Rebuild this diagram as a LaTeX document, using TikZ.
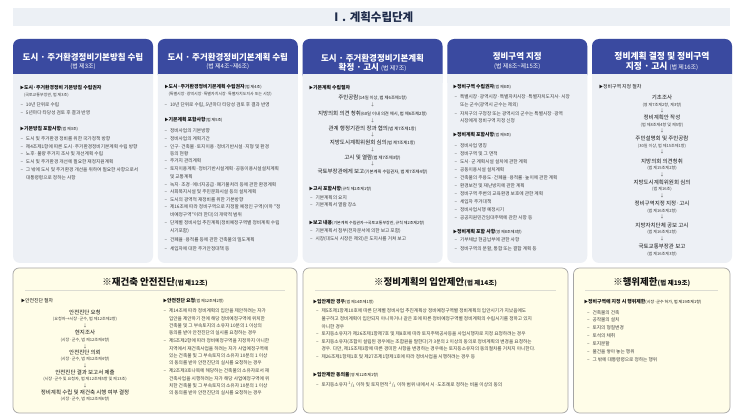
\documentclass[tikz,border=0pt]{standalone}
\usepackage{fontspec}
\newfontfamily\kr{Noto Sans CJK KR}
\definecolor{hdrc}{RGB}{58,74,160}
\definecolor{bodyc}{RGB}{237,240,245}
\definecolor{bandc}{RGB}{236,240,245}
\definecolor{creamc}{RGB}{255,253,232}
\definecolor{boxline}{RGB}{165,165,165}
\definecolor{sepc}{RGB}{220,220,210}
\definecolor{txtc}{RGB}{60,60,60}
\definecolor{headc}{RGB}{20,20,20}
\definecolor{arrc}{RGB}{90,90,90}
\definecolor{titc}{RGB}{30,43,74}
\newcounter{ln}
\tikzset{
 tl/.style={anchor=west, inner sep=0pt, outer sep=0pt, text=txtc, font=\kr\fontsize{4.7}{5}\selectfont},
 tc/.style={tl, anchor=center},
 bh/.style={tl, text=headc, font=\kr\bfseries\fontsize{4.9}{5}\selectfont},
 bn/.style={tl, text=headc, font=\kr\fontsize{4.9}{5}\selectfont},
 fm/.style={tc, text=headc, font=\kr\fontsize{5.5}{6}\selectfont},
 fs/.style={tc, font=\kr\fontsize{4.1}{5}\selectfont},
 ar/.style={tc, text=arrc, font=\kr\fontsize{4.5}{5}\selectfont},
 ht/.style={anchor=center, inner sep=0pt, text=white, font=\kr\bfseries\fontsize{8.5}{9}\selectfont},
 hs/.style={ht, font=\kr\fontsize{6}{6}\selectfont},
 bt/.style={anchor=center, inner sep=0pt, text=headc, font=\kr\bfseries\fontsize{9.5}{10}\selectfont},
}
\newcommand\Tx[3][tl]{\stepcounter{ln}\node[#1] (t\arabic{ln}) at (#2) {#3};}
\newcommand\psm[1]{{\mdseries\fontsize{4}{5}\selectfont #1}}
\newcommand\psn[1]{{\mdseries\fontsize{4.3}{5}\selectfont #1}}
\newcommand\trg{{\fontsize{4}{5}\selectfont ▶}}
\newcommand\dsh{\makebox[5.5pt][l]{–}}
\newcommand\colbox[1]{%
 \fill[bodyc, rounded corners=7pt] (#1,39) rectangle ++(140,224);
 \fill[hdrc, rounded corners=7pt] (#1,39) rectangle ++(140,42);
 \fill[bodyc] (#1,74) rectangle ++(140,9);}
\newcommand\botbox[2]{%
 \filldraw[fill=creamc, draw=boxline, line width=0.7pt, rounded corners=6pt] (#1,268) rectangle (#2,413);}
\begin{document}
\begin{tikzpicture}[x=1pt,y=-1pt]
\useasboundingbox (0,0) rectangle (743,419);
\fill[white] (0,0) rectangle (743,419);
% title band
\fill[bandc] (13,8) rectangle (730,26);
\Tx[anchor=center, inner sep=0pt, text=titc, font=\kr\bfseries\fontsize{11.5}{12}\selectfont]{372,17}{Ⅰ. 계획수립단계}
% columns
\colbox{13}
\colbox{157.75}
\colbox{302.5}
\colbox{447.25}
\colbox{592}
% headers
\Tx[ht]{83,57}{도시 · 주거환경정비기본방침 수립}
\Tx[hs]{83,67}{(법 제3조)}
\Tx[ht]{227.75,57}{도시 · 주거환경정비기본계획 수립}
\Tx[hs]{227.75,67}{(법 제4조\textasciitilde 제6조)}
\Tx[ht]{372.5,58}{도시 · 주거환경정비기본계획}
\Tx[ht]{372.5,67.5}{확정 · 고시 {\mdseries\fontsize{6}{6}\selectfont (법 제7조)}}
\Tx[ht]{517.25,56}{정비구역 지정}
\Tx[hs]{517.25,67}{(법 제8조\textasciitilde 제15조)}
\Tx[ht, font=\kr\bfseries\fontsize{8.8}{9}\selectfont]{662,56.5}{정비계획 결정 및 정비구역}
\Tx[ht, font=\kr\bfseries\fontsize{8.8}{9}\selectfont]{662,66}{지정 · 고시 {\mdseries\fontsize{6}{6}\selectfont (법 제16조)}}
% ---- column 1
\Tx[bh]{20,87.3}{\trg 도시·주거환경정비 기본방침 수립권자}
\Tx{24,95}{\psm{(국토교통부장관, 법 제3조)}}
\Tx{20.5,105}{\dsh 10년 단위로 수립}
\Tx{20.5,113}{\dsh 5년마다 타당성 검토 후 결과 반영}
\Tx[bh]{20,129}{\trg 기본방침 포함사항\psm{(법 제3조)}}
\Tx{20.5,138.7}{\dsh 도시 및 주거환경 정비를 위한 국가정책 방향}
\Tx{20.5,146.3}{\dsh 제4조제1항에 따른 도시·주거환경정비기본계획 수립 방향}
\Tx{20.5,154}{\dsh 노후·불량 주거지 조사 및 개선계획 수립}
\Tx{20.5,162}{\dsh 도시 및 주거환경 개선에 필요한 재정지원계획}
\Tx{20.5,170}{\dsh 그 밖에 도시 및 주거환경 개선을 위하여 필요한 사항으로서}
\Tx{26,177.7}{대통령령으로 정하는 사항}
% ---- column 2
\Tx[bh]{164.5,86.7}{\trg 도시·주거환경정비기본계획 수립권자\psm{(법 제4조)}}
\Tx{168.5,94.3}{\psm{(특별시장·광역시장·특별자치시장·특별자치도지사 또는 시장)}}
\Tx{164.5,105}{\dsh 10년 단위로 수립, 5년마다 타당성 검토 후 결과 반영}
\Tx[bh]{164.5,120}{\trg 기본계획 포함사항\psm{(법 제5조)}}
\Tx{164.5,130.7}{\dsh 정비사업의 기본방향}
\Tx{164.5,139}{\dsh 정비사업의 계획기간}
\Tx{164.5,146.3}{\dsh 인구·건축물·토지이용·정비기반시설·지형 및 환경}
\Tx{170,153.5}{등의 현황}
\Tx{164.5,161}{\dsh 주거지 관리계획}
\Tx{164.5,168.7}{\dsh 토지이용계획·정비기반시설계획·공동이용시설설치계획}
\Tx{170,176.3}{및 교통계획}
\Tx{164.5,184.3}{\dsh 녹지·조경·에너지공급·폐기물처리 등에 관한 환경계획}
\Tx{164.5,192}{\dsh 사회복지시설 및 주민문화시설 등의 설치계획}
\Tx{164.5,199.7}{\dsh 도시의 광역적 재정비를 위한 기본방향}
\Tx{164.5,207.3}{\dsh 제16조에 따라 정비구역으로 지정할 예정인 구역(이하 "정}
\Tx{170,215}{비예정구역"이라 한다)의 개략적 범위}
\Tx{164.5,223.3}{\dsh 단계별 정비사업 추진계획(정비예정구역별 정비계획 수립}
\Tx{170,230.7}{시기포함)}
\Tx{164.5,240}{\dsh 건폐율·용적률 등에 관한 건축물의 밀도계획}
\Tx{164.5,248.5}{\dsh 세입자에 대한 주거안정대책 등}
% ---- column 3
\Tx[bh]{309,87.3}{\trg 기본계획 수립절차}
\Tx[fm]{372.5,97.7}{주민공람\psn{(14일 이상, 법 제6조제1항)}}
\Tx[ar]{372.5,105}{↓}
\Tx[fm]{372.5,113.3}{지방의회 의견 청취\psn{(60일 이내 의견 제시, 법 제6조제2항)}}
\Tx[ar]{372.5,120.5}{↓}
\Tx[fm]{372.5,128.3}{관계 행정기관의 장과 협의\psn{(법 제7조제1항)}}
\Tx[ar]{372.5,135.3}{↓}
\Tx[fm]{372.5,142.7}{지방도시계획위원회 심의\psn{(법 제7조제1항)}}
\Tx[ar]{372.5,149.7}{↓}
\Tx[fm]{372.5,157.3}{고시 및 열람\psn{(법 제7조제3항)}}
\Tx[ar]{372.5,164.3}{↓}
\Tx[fm]{372.5,171.7}{국토부장관에게 보고\psn{(기본계획 수립권자, 법 제7조제4항)}}
\Tx[bh]{309,189}{\trg 고시 포함사항\psm{(규칙 제2조제1항)}}
\Tx{310,197.3}{\dsh 기본계획의 요지}
\Tx{310,205}{\dsh 기본계획서 열람 장소}
\Tx[bh]{309,222.7}{\trg 보고 내용\psm{(기본계획 수립권자→국토교통부장관, 규칙 제2조제2항)}}
\Tx{310,231}{\dsh 기본계획서 첨부(전자문서에 의한 보고 포함)}
\Tx{310,239}{\dsh 시장(대도시 시장은 제외)은 도지사를 거쳐 보고}
% ---- column 4
\Tx[bh]{453,87.3}{\trg 정비구역 수립권자\psm{(법 제8조)}}
\Tx{454.5,97}{\dsh 특별시장·광역시장·특별자치시장·특별자치도지사·시장}
\Tx{460,105}{또는 군수(광역시 군수는 제외)}
\Tx{454.5,113.3}{\dsh 자치구의 구청장 또는 광역시의 군수는 특별시장·광역}
\Tx{460,121}{시장에게 정비구역 지정 신청}
\Tx[bh]{453,135}{\trg 정비계획 포함사항\psm{(법 제9조)}}
\Tx{454.5,146}{\dsh 정비사업 명칭}
\Tx{454.5,153.7}{\dsh 정비구역 및 그 면적}
\Tx{454.5,161.7}{\dsh 도시·군 계획시설 설치에 관한 계획}
\Tx{454.5,169.7}{\dsh 공동이용시설 설치계획}
\Tx{454.5,177.7}{\dsh 건축물의 주용도·건폐율·용적률·높이에 관한 계획}
\Tx{454.5,185.7}{\dsh 환경보전 및 재난방지에 관한 계획}
\Tx{454.5,194}{\dsh 정비구역 주변의 교육환경 보호에 관한 계획}
\Tx{454.5,201.7}{\dsh 세입자 주거대책}
\Tx{454.5,209.3}{\dsh 정비사업시행 예정시기}
\Tx{454.5,217.7}{\dsh 공공지원민간임대주택에 관한 사항 등}
\Tx[bh]{453,231.7}{\trg 정비계획 포함 사항\psm{(영 제8조제3항)}}
\Tx{454.5,240}{\dsh 기부채납 현금납부에 관한 사항}
\Tx{454.5,248.5}{\dsh 정비구역의 분할, 통합 또는 결합 계획 등}
% ---- column 5
\Tx[bn]{599,86.7}{\trg 정비구역 지정 절차}
\Tx[fm]{662,97.7}{기초조사}
\Tx[fs]{662,105}{(영 제7조제2항, 제3항)}
\Tx[ar]{662,111}{↓}
\Tx[fm]{662,117.7}{정비계획안 작성}
\Tx[fs]{662,125}{(법 제8조제4항 및 제5항)}
\Tx[ar]{662,131.3}{↓}
\Tx[fm]{662,138.3}{주민설명회 및 주민공람}
\Tx[fs]{662,145.7}{(30일 이상, 법 제15조제1항)}
\Tx[ar]{662,152.3}{↓}
\Tx[fm]{662,161}{지방의회 의견청취}
\Tx[fs]{662,168.3}{(법 제15조제2항)}
\Tx[ar]{662,175}{↓}
\Tx[fm]{662,182.7}{지방도시계획위원회 심의}
\Tx[fs]{662,189.3}{(법 제16조)}
\Tx[ar]{662,195.7}{↓}
\Tx[fm]{662,203.3}{정비구역지정 지정·고시}
\Tx[fs]{662,210.7}{(법 제16조제2항)}
\Tx[ar]{662,217.3}{↓}
\Tx[fm]{662,225}{지방자치단체 공보 고시}
\Tx[fs]{662,231.7}{(법 제16조제2항)}
\Tx[ar]{662,239}{↓}
\Tx[fm]{662,246.7}{국토교통부장관 보고}
\Tx[fs]{662,254}{(법 제16조제3항)}
% ---- bottom boxes
\botbox{13}{297}
\botbox{303}{568}
\botbox{573.5}{730}
\draw[sepc, line width=0.6pt] (25,290.5) -- (285,290.5);
\draw[sepc, line width=0.6pt] (315,290.5) -- (556,290.5);
\draw[sepc, line width=0.6pt] (585,290.5) -- (718,290.5);
% bottom 1
\Tx[bt]{155,282.5}{※재건축 안전진단{\fontsize{6.5}{7}\selectfont (법 제12조)}}
\Tx[bn]{21,301}{\trg 안전진단 절차}
\Tx[fm]{85,312.3}{안전진단 요청}
\Tx[fs]{85,319}{(요청자→시장·군수, 법 제12조제2항)}
\Tx[ar]{85,325.7}{↓}
\Tx[fm]{85,332.7}{현지조사}
\Tx[fs]{85,340}{(시장·군수, 법 제12조제4항)}
\Tx[ar]{85,346.3}{↓}
\Tx[fm]{85,352.7}{안전진단 의뢰}
\Tx[fs]{85,359.3}{(시장·군수, 법 제12조제4항)}
\Tx[ar]{85,365.7}{↓}
\Tx[fm]{85,372.3}{안전진단 결과 보고서 제출}
\Tx[fs]{85,379}{(시장·군수 및 요청자, 법 제12조제5항 및 제13조)}
\Tx[ar]{85,385.7}{↓}
\Tx[fm]{85,392.3}{정비계획 수립 및 재건축 시행 여부 결정}
\Tx[fs]{85,399}{(시장·군수, 법 제12조제6항)}
\Tx[bh]{163,301}{\trg 안전진단 요청\psm{(법 제12조제2항)}}
\Tx{163.5,311}{\dsh 제14조에 따라 정비계획의 입안을 제안하려는 자가}
\Tx{169,318.3}{입안을 제안하기 전에 해당 정비예정구역에 위치한}
\Tx{169,325.7}{건축물 및 그 부속토지의 소유자 10분의 1 이상의}
\Tx{169,333}{동의를 받아 안전진단의 실시를 요청하는 경우}
\Tx{163.5,341}{\dsh 제5조제2항에 따라 정비예정구역을 지정하지 아니한}
\Tx{169,348.3}{지역에서 재건축사업을 하려는 자가 사업예정구역에}
\Tx{169,355.7}{있는 건축물 및 그 부속토지의 소유자 10분의 1 이상}
\Tx{169,363}{의 동의를 받아 안전진단의 실시를 요청하는 경우}
\Tx{163.5,371}{\dsh 제2조제3호나목에 해당하는 건축물의 소유자로서 재}
\Tx{169,378.3}{건축사업을 시행하려는 자가 해당 사업예정구역에 위}
\Tx{169,385.7}{치한 건축물 및 그 부속토지의 소유자 10분의 1 이상}
\Tx{169,393}{의 동의를 받아 안전진단의 실시를 요청하는 경우}
% bottom 2
\Tx[bt]{435.5,282.5}{※정비계획의 입안제안{\fontsize{6.5}{7}\selectfont (법 제14조)}}
\Tx[bh]{313,301.7}{\trg 입안제안 경우\psm{(법 제14조제1항)}}
\Tx{316,311}{\dsh 제5조제1항제10호에 따른 단계별 정비사업 추진계획상 정비예정구역별 정비계획의 입안시기가 지났음에도}
\Tx{321.5,318.7}{불구하고 정비계획이 입안되지 아니하거나 같은 호에 따른 정비예정구역별 정비계획의 수립시기를 정하고 있지}
\Tx{321.5,326.3}{아니한 경우}
\Tx{316,334}{\dsh 토지등소유자가 제26조제1항제7호 및 제8호에 따라 토지주택공사등을 사업시행자로 지정 요청하려는 경우}
\Tx{316,341.7}{\dsh 토지등소유자(조합이 설립된 경우에는 조합원을 말한다)가 3분의 2 이상의 동의로 정비계획의 변경을 요청하는}
\Tx{321.5,349.3}{경우. 다만, 제15조제3항에 따른 경미한 사항을 변경하는 경우에는 토지등소유자의 동의절차를 거치지 아니한다.}
\Tx{316,357}{\dsh 제26조제1항제1호 및 제27조제1항제1호에 따라 정비사업을 시행하려는 경우 등}
\Tx[bh]{313,375}{\trg 입안제안 동의율\psm{(영 제12조제1항)}}
\Tx{316,385}{\dsh 토지등소유자 \textsuperscript{2}/\textsubscript{3} 이하 및 토지면적 \textsuperscript{2}/\textsubscript{3} 이하 범위 내에서 시·도조례로 정하는 비율 이상의 동의}
% bottom 3
\Tx[bt]{651.75,282.5}{※행위제한{\fontsize{6.5}{7}\selectfont (법 제19조)}}
\Tx[bh]{584,301.7}{\trg 정비구역에 지정 시 행위제한\psm{(시장·군수 허가, 법 제19조제1항)}}
\Tx{587,312.3}{\dsh 건축물의 건축}
\Tx{587,320}{\dsh 공작물의 설치}
\Tx{587,328}{\dsh 토지의 형질변경}
\Tx{587,335.7}{\dsh 토석의 채취}
\Tx{587,343.3}{\dsh 토지분할}
\Tx{587,351.7}{\dsh 물건을 쌓아 놓는 행위}
\Tx{587,360}{\dsh 그 밖에 대통령령으로 정하는 행위}
\end{tikzpicture}
\end{document}
